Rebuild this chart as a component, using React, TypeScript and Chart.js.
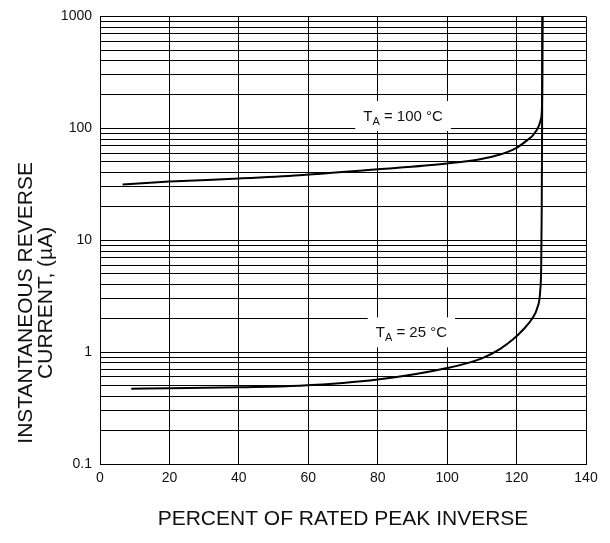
import React, { useEffect, useRef } from 'react';
import { Chart, registerables } from 'chart.js';

Chart.register(...registerables);

// ---- data ----
const xTickValues = [0, 20, 40, 60, 80, 100, 120, 140];
const yDecades = [0.1, 1, 10, 100, 1000];
const yTickLabels = ['0.1', '1', '10', '100', '1000'];

// T_A = 100 °C curve
const t100X = [6.5, 20, 40, 57.5, 80, 100, 109.5, 115, 120, 123, 124.9, 126.3, 127.0, 127.3, 127.4, 127.45];
const t100Y = [31.5, 33.4, 35.6, 38.1, 43, 48.5, 53, 58, 67, 78, 88, 103, 120, 150, 300, 1000];

// T_A = 25 °C curve
const t25X = [9, 20, 40, 57.5, 80, 100, 110, 115.3, 119, 122, 124.5, 126, 126.8, 127.1, 127.25, 127.35, 127.45];
const t25Y = [0.47, 0.475, 0.485, 0.5, 0.568, 0.72, 0.88, 1.07, 1.3, 1.6, 2.0, 2.5, 3.5, 6, 20, 100, 1000];

const curveTemps = ['100', '25'];
const labelX = [87.3, 89.7];
const labelY = [128.5, 1.5];

const yTitleLines = ['INSTANTANEOUS REVERSE', 'CURRENT, (µA)'];
const xTitle = 'PERCENT OF RATED PEAK INVERSE';

const FONT = '"Liberation Sans", Arial, Helvetica, sans-serif';
const INK = '#111';

const labelPlugin = {
  id: 'tempLabels',
  afterDatasetsDraw(chart: any) {
    const { ctx } = chart;
    const x = chart.scales.x;
    const y = chart.scales.y;
    curveTemps.forEach((t, i) => {
      const cx = x.getPixelForValue(labelX[i]);
      const cy = y.getPixelForValue(labelY[i]);
      const big = `15px ${FONT}`;
      const small = `11px ${FONT}`;
      const rest = ` = ${t} °C`;
      ctx.save();
      ctx.font = big;
      const wT = ctx.measureText('T').width;
      const wR = ctx.measureText(rest).width;
      ctx.font = small;
      const wA = ctx.measureText('A').width;
      const w = wT + wA + wR;
      const boxW = w + 16;
      const boxH = 30;
      ctx.fillStyle = '#fff';
      ctx.fillRect(cx - boxW / 2, cy - boxH / 2, boxW, boxH);
      ctx.fillStyle = INK;
      ctx.textBaseline = 'alphabetic';
      ctx.textAlign = 'left';
      let px = cx - w / 2;
      const base = cy + 5;
      ctx.font = big;
      ctx.fillText('T', px, base);
      px += wT;
      ctx.font = small;
      ctx.fillText('A', px, base + 4);
      px += wA;
      ctx.font = big;
      ctx.fillText(rest, px, base);
      ctx.restore();
    });
  },
  afterDraw(chart: any) {
    // y-axis title, two rotated lines, placed a bit below the plot centre as in the reference
    const { ctx } = chart;
    const area = chart.chartArea;
    const cy = area.top + (area.bottom - area.top) * 0.64;
    ctx.save();
    ctx.fillStyle = INK;
    ctx.font = `21px ${FONT}`;
    ctx.textAlign = 'center';
    ctx.textBaseline = 'middle';
    yTitleLines.forEach((line, i) => {
      ctx.save();
      ctx.translate(26 + i * 20, cy);
      ctx.rotate(-Math.PI / 2);
      ctx.fillText(line, 0, 0);
      ctx.restore();
    });
    ctx.restore();
  },
};

export default function App() {
  const canvasRef = useRef<HTMLCanvasElement | null>(null);

  useEffect(() => {
    document.body.style.margin = '0';
    const canvas = canvasRef.current;
    if (!canvas) return;
    Chart.defaults.font.family = FONT;

    const chart = new Chart(canvas, {
      type: 'scatter',
      data: {
        datasets: [
          {
            data: t100X.map((v, i) => ({ x: v, y: t100Y[i] })),
            showLine: true,
            borderColor: '#000',
            borderWidth: 2,
            pointRadius: 0,
            cubicInterpolationMode: 'monotone',
            fill: false,
          } as any,
          {
            data: t25X.map((v, i) => ({ x: v, y: t25Y[i] })),
            showLine: true,
            borderColor: '#000',
            borderWidth: 2,
            pointRadius: 0,
            cubicInterpolationMode: 'monotone',
            fill: false,
          } as any,
        ],
      },
      options: {
        responsive: false,
        animation: false,
        events: [],
        layout: { padding: { top: 15, right: 24, bottom: 0, left: 0 } },
        plugins: {
          legend: { display: false },
          tooltip: { enabled: false },
        },
        scales: {
          x: {
            type: 'linear',
            min: 0,
            max: 140,
            afterBuildTicks: (scale: any) => {
              scale.ticks = xTickValues.map((v) => ({ value: v }));
            },
            afterFit: (scale: any) => {
              scale.height = 79;
            },
            ticks: {
              autoSkip: false,
              padding: 6,
              color: INK,
              font: { size: 14, family: FONT },
              maxRotation: 0,
              callback: (v: any) => String(v),
            },
            grid: { color: '#000', lineWidth: 1, drawTicks: false },
            border: { color: '#000', width: 1 },
            title: {
              display: true,
              text: xTitle,
              color: INK,
              font: { size: 21, family: FONT, lineHeight: 1 },
              padding: { top: 0, bottom: 13 },
            },
          },
          y: {
            type: 'logarithmic',
            min: 0.1,
            max: 1000,
            afterBuildTicks: (scale: any) => {
              const ticks: any[] = [];
              for (let d = 0; d < yDecades.length - 1; d++) {
                for (let k = 1; k <= 9; k++) ticks.push({ value: yDecades[d] * k });
              }
              ticks.push({ value: yDecades[yDecades.length - 1] });
              scale.ticks = ticks;
            },
            afterFit: (scale: any) => {
              scale.width = 100;
            },
            ticks: {
              autoSkip: false,
              padding: 8,
              color: INK,
              font: { size: 14, family: FONT },
              callback: (v: any) => {
                const i = yDecades.findIndex((d) => Math.abs(d - v) / d < 1e-6);
                return i >= 0 ? yTickLabels[i] : '';
              },
            },
            grid: { color: '#000', lineWidth: 1, drawTicks: false },
            border: { color: '#000', width: 1 },
            title: { display: false },
          },
        },
      } as any,
      plugins: [labelPlugin],
    });

    return () => chart.destroy();
  }, []);

  return (
    <div style={{ width: 610, height: 543 }}>
      <canvas ref={canvasRef} width={610} height={543} style={{ display: 'block' }} />
    </div>
  );
}
